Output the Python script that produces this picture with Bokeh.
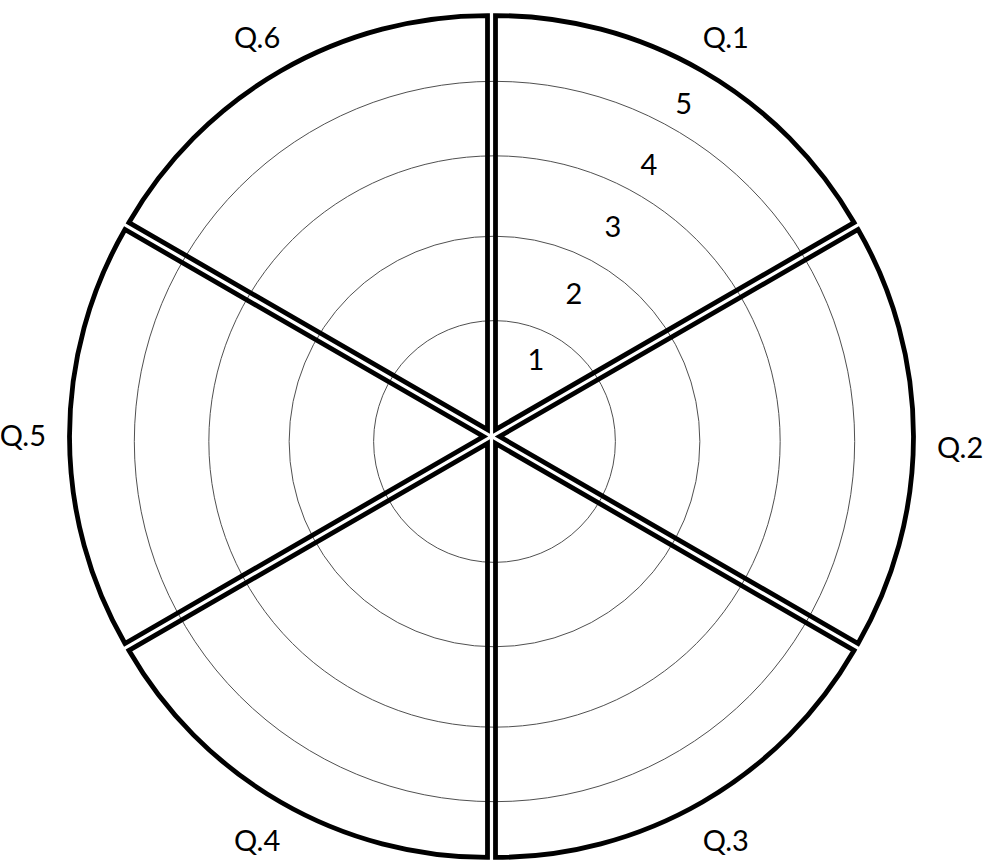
import numpy as np
from bokeh.plotting import figure
from bokeh.models import ColumnDataSource, Range1d
from bokeh.core.properties import value
from bokeh.embed import file_html
from bokeh.resources import INLINE

# ---- data ----
categories = ["Q.1", "Q.2", "Q.3", "Q.4", "Q.5", "Q.6"]
scores = [5, 5, 5, 5, 5, 5]              # every wedge drawn to the full score
ring_values = [1.46, 2.48, 3.45, 4.35]   # thin circular grid rings
tick_labels = ["1", "2", "3", "4", "5"]
tick_radii = [1.07, 1.99, 2.93, 3.80, 4.64]

# ---- layout / style constants ----
W, H = 987, 862
PX = 82.8                 # pixels per score unit
CX, CY = 491, 436         # chart centre inside the frame (px)
GAP = 8 / PX              # wedge offset along its bisector
LABEL_R = 5.66
LABEL_DY = [6, 10, -3, -3, -2, 6]   # small per-label vertical nudges (px)
TICK_ANGLE = np.deg2rad(60)
RING_DX, RING_DY = 3 / PX, -5 / PX

n = len(categories)
step = 2 * np.pi / n
# Q.1 starts at 12 o'clock and the sectors go clockwise
mid = np.pi / 2 - step / 2 - np.arange(n) * step
start = mid - step / 2
end = mid + step / 2

wedges = ColumnDataSource(dict(
    x=GAP * np.cos(mid), y=GAP * np.sin(mid),
    r=np.array(scores, dtype=float),
    start=start, end=end,
))
labels = ColumnDataSource(dict(
    x=LABEL_R * np.cos(mid), y=LABEL_R * np.sin(mid), text=categories,
    dy=LABEL_DY,
))
ticks = ColumnDataSource(dict(
    x=np.array(tick_radii) * np.cos(TICK_ANGLE),
    y=np.array(tick_radii) * np.sin(TICK_ANGLE),
    text=tick_labels,
))
rings = ColumnDataSource(dict(
    x=[RING_DX] * len(ring_values), y=[RING_DY] * len(ring_values), r=ring_values,
))

p = figure(width=W, height=H, output_backend="svg", toolbar_location=None,
           x_range=Range1d(-CX / PX, (W - CX) / PX),
           y_range=Range1d(-(H - CY) / PX, CY / PX),
           min_border=0)
p.axis.visible = False
p.grid.visible = False
p.outline_line_color = None
p.background_fill_color = "white"

p.circle(x="x", y="y", radius="r", source=rings, fill_color=None,
         line_color="#505050", line_width=1)
p.wedge(x="x", y="y", radius="r", start_angle="start", end_angle="end",
        source=wedges, fill_color=None, line_color="black", line_width=4.8,
        line_join="miter")
p.text(x="x", y="y", text="text", source=labels, text_font=value("Lato"),
       text_font_size="29px", text_align="center", text_baseline="middle",
       text_color="black", y_offset="dy")
p.text(x="x", y="y", text="text", source=ticks, text_font=value("Lato"),
       text_font_size="29px", text_align="center", text_baseline="middle",
       text_color="black")

open("out.html", "w").write(file_html(p, INLINE))
